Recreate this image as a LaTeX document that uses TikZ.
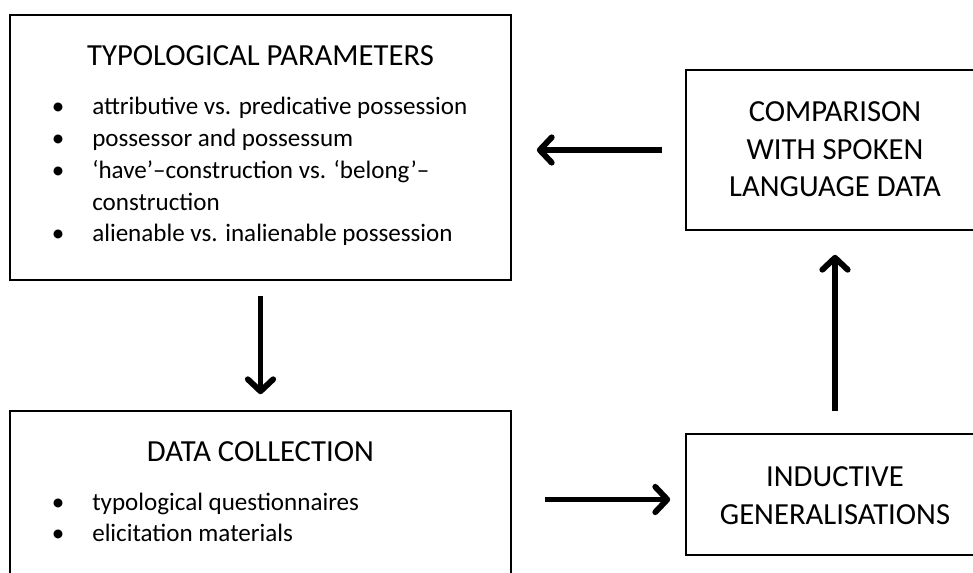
\documentclass[tikz,border=0pt]{standalone}
\usepackage{fontspec}
\setmainfont{Carlito}
\usetikzlibrary{arrows.meta,positioning,calc}
\tikzset{
  stageBox/.style={draw=black, line width=1.2pt, fill=white, inner sep=0pt},
  stageTitle/.style={font=\fontsize{23}{27}\selectfont, anchor=base, inner sep=0pt},
  sideTitle/.style={font=\fontsize{23}{27}\selectfont, anchor=base, inner sep=0pt},
  itemText/.style={font=\fontsize{18.8}{22}\selectfont, anchor=base west, inner sep=0pt},
  itemDot/.style={font=\fontsize{18.8}{22}\selectfont, anchor=base, inner sep=0pt},
  flowArrow/.style={-{Straight Barb[length=9pt,width=19pt,line width=4.4pt,round]}, line width=3.9pt}
}
\begin{document}
\begin{tikzpicture}[x=0.75pt,y=-0.75pt]
  \clip (0,0) rectangle (973,572);
  % the four boxes
  \node[stageBox, minimum width=375.75pt, minimum height=198.75pt] (params) at (260.5,147.5) {};
  \node[stageBox, minimum width=223.5pt, minimum height=120pt] (compare) at (835,150) {};
  \node[stageBox, minimum width=375.75pt, minimum height=141.75pt] (collect) at (260.5,505.5) {};
  \node[stageBox, minimum width=223.5pt, minimum height=90.75pt] (induct) at (835,494.5) {};
  % typological parameters
  \node[stageTitle] (paramsTitle) at (260.5,65.5) {TYPOLOGICAL PARAMETERS};
  \node[itemDot] (pDotA) at (58,114.5) {•};
  \node[itemText] (pItemA) at (92,114.5) {attributive vs. predicative possession};
  \node[itemDot] (pDotB) at (58,146.5) {•};
  \node[itemText] (pItemB) at (92,146.5) {possessor and possessum};
  \node[itemDot] (pDotC) at (58,178.3) {•};
  \node[itemText] (pItemC) at (92,178.3) {‘have’–construction vs. ‘belong’–};
  \node[itemText] (pItemD) at (92,210) {construction};
  \node[itemDot] (pDotE) at (58,241.7) {•};
  \node[itemText] (pItemE) at (92,241.7) {alienable vs. inalienable possession};
  % comparison
  \node[sideTitle] (compareA) at (835,121.7) {COMPARISON};
  \node[sideTitle] (compareB) at (835,159.3) {WITH SPOKEN};
  \node[sideTitle] (compareC) at (835,196.7) {LANGUAGE DATA};
  % data collection
  \node[stageTitle] (collectTitle) at (260.5,461.7) {DATA COLLECTION};
  \node[itemDot] (cDotA) at (58,510) {•};
  \node[itemText] (cItemA) at (92,510) {typological questionnaires};
  \node[itemDot] (cDotB) at (58,541.7) {•};
  \node[itemText] (cItemB) at (92,541.7) {elicitation materials};
  % inductive generalisations
  \node[sideTitle] (inductA) at (835,486.7) {INDUCTIVE};
  \node[sideTitle] (inductB) at (835,524) {GENERALISATIONS};
  % cycle
  \draw[flowArrow, shorten <=11.25pt, shorten >=12pt] (params.south) -- (collect.north);
  \draw[flowArrow, shorten <=24.75pt, shorten >=11.25pt] (collect.east |- induct.west) ++(0,5) -- ([yshift=-3.75pt]induct.west);
  \draw[flowArrow, shorten <=16.5pt, shorten >=18pt] (induct.north) -- (compare.south);
  \draw[flowArrow, shorten <=17.25pt, shorten >=18.75pt] (compare.west) -- (compare.west -| params.east);
\end{tikzpicture}
\end{document}
